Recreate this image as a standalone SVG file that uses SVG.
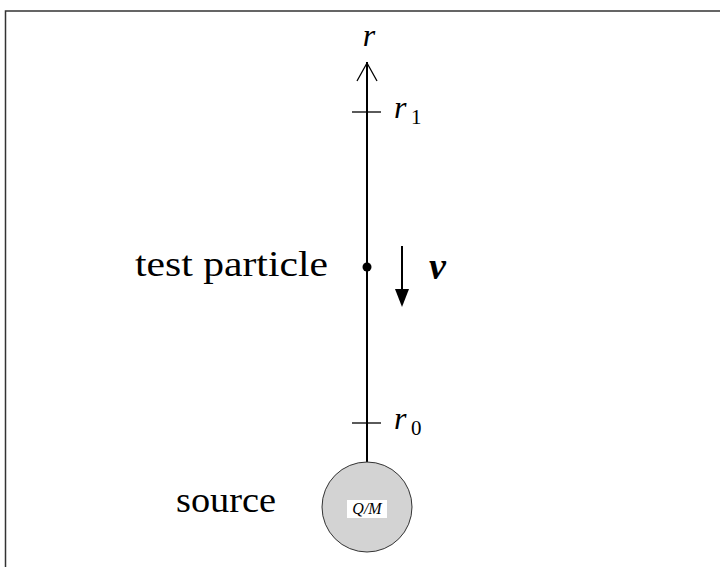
<svg xmlns="http://www.w3.org/2000/svg" width="720" height="567" viewBox="0 0 720 567">
<style>
.t{font-family:"Liberation Serif","DejaVu Serif",serif;fill:#000}
.m{font-family:"Liberation Serif","DejaVu Serif",serif;font-style:italic;fill:#000}
.ln{stroke:#000;fill:none}
</style>
<rect width="720" height="567" fill="#fff"/>
<path d="M5.5 567 V11 H720" stroke="#333" stroke-width="1.5" fill="none"/>
<g id="connectors">
<line x1="367" y1="62" x2="367" y2="462" class="ln" stroke-width="2"/>
<path d="M357 81 L367 63 L377 81" class="ln" stroke-width="1.3"/>
<line x1="352" y1="112" x2="381" y2="112" class="ln" stroke-width="1.3"/>
<line x1="352" y1="423" x2="381" y2="423" class="ln" stroke-width="1.3"/>
<line x1="402" y1="246" x2="402" y2="292" class="ln" stroke-width="2"/>
<path d="M395 289 L402 307 L409 289 Z" fill="#000"/>
</g>
<g id="axis-label"><text x="369" y="46" class="m" font-size="32" text-anchor="middle">r</text></g>
<g id="r1"><text x="394" y="118" class="m" font-size="32">r</text><text x="411" y="124" class="t" font-size="21">1</text></g>
<g id="r0"><text x="394" y="429" class="m" font-size="32">r</text><text x="411" y="435" class="t" font-size="21">0</text></g>
<g id="test-particle">
<circle cx="367" cy="267" r="4.5" fill="#000"/>
<text x="135" y="276" class="t" font-size="36" textLength="193" lengthAdjust="spacingAndGlyphs">test particle</text>
</g>
<g id="velocity"><text x="429" y="279" class="m" font-size="38" font-weight="bold">v</text></g>
<g id="source">
<circle cx="367" cy="507" r="45" fill="#d3d3d3" stroke="#333" stroke-width="1"/>
<rect x="347" y="500" width="40" height="18" fill="#fff"/>
<text x="367" y="514" class="m" font-size="16" text-anchor="middle">Q/M</text>
<text x="176" y="512" class="t" font-size="36" textLength="100" lengthAdjust="spacingAndGlyphs">source</text>
</g>
</svg>
